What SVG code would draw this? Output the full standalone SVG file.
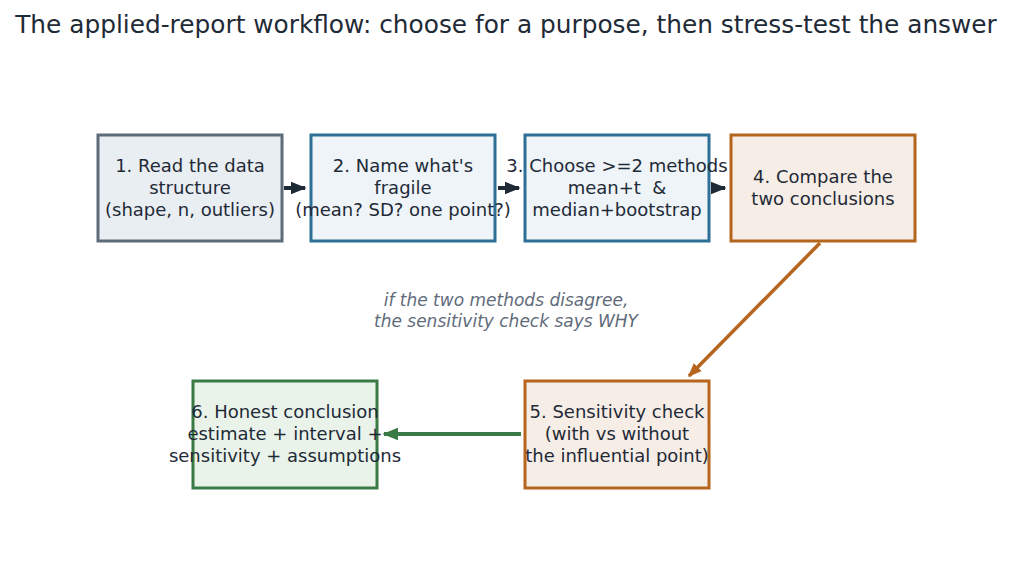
<svg xmlns="http://www.w3.org/2000/svg" width="1012" height="569" viewBox="0 0 1012 569">
<defs>
<style>
.box{stroke-width:3}
.t{font-family:"DejaVu Sans",sans-serif;font-size:18px;fill:#1f2a37;text-anchor:middle}
.title{font-family:"DejaVu Sans",sans-serif;font-size:24.8px;fill:#1f2a37;text-anchor:middle}
.note{font-family:"DejaVu Sans",sans-serif;font-size:17px;font-style:italic;fill:#5f6b7a;text-anchor:middle}
</style>
<marker id="ad" viewBox="0 0 10 10" refX="9" refY="5" markerWidth="4" markerHeight="4" orient="auto" markerUnits="strokeWidth"><path d="M0,1 L10,5 L0,9 z" fill="#1f2a37"/></marker>
<marker id="ao" viewBox="0 0 10 10" refX="9" refY="5" markerWidth="4" markerHeight="4" orient="auto" markerUnits="strokeWidth"><path d="M0,1 L10,5 L0,9 z" fill="#b5651d"/></marker>
<marker id="ag" viewBox="0 0 10 10" refX="9" refY="5" markerWidth="4" markerHeight="4" orient="auto" markerUnits="strokeWidth"><path d="M0,1 L10,5 L0,9 z" fill="#3a7a45"/></marker>
</defs>
<rect width="1012" height="569" fill="#ffffff"/>
<text class="title" x="506" y="33">The applied-report workflow: choose for a purpose, then stress-test the answer</text>
<g id="connectors" fill="none" stroke-width="4">
<line x1="284" y1="188" x2="305" y2="188" stroke="#1f2a37" marker-end="url(#ad)"/>
<line x1="498" y1="188" x2="519" y2="188" stroke="#1f2a37" marker-end="url(#ad)"/>
<line x1="711" y1="188" x2="725" y2="188" stroke="#1f2a37" marker-end="url(#ad)"/>
<line x1="820" y1="243" x2="689" y2="376" stroke="#b5651d" stroke-width="3.5" marker-end="url(#ao)"/>
<line x1="521" y1="434" x2="384" y2="434" stroke="#3a7a45" marker-end="url(#ag)"/>
</g>
<g id="n1"><rect class="box" x="98" y="135" width="184" height="106" fill="#e9eef2" stroke="#5f6b7a"/>
<text class="t" x="190" y="172">1. Read the data</text><text class="t" x="190" y="194">structure</text><text class="t" x="190" y="216">(shape, n, outliers)</text></g>
<g id="n2"><rect class="box" x="311" y="135" width="184" height="106" fill="#eef4f8" stroke="#2e6f96"/>
<text class="t" x="403" y="172">2. Name what's</text><text class="t" x="403" y="194">fragile</text><text class="t" x="403" y="216">(mean? SD? one point?)</text></g>
<g id="n3"><rect class="box" x="525" y="135" width="184" height="106" fill="#eef4f8" stroke="#2e6f96"/>
<text class="t" x="617" y="172">3. Choose &gt;=2 methods</text><text class="t" x="617" y="194" xml:space="preserve">mean+t  &amp;</text><text class="t" x="617" y="216">median+bootstrap</text></g>
<g id="n4"><rect class="box" x="731" y="135" width="184" height="106" fill="#f6ede6" stroke="#b5651d"/>
<text class="t" x="823" y="183">4. Compare the</text><text class="t" x="823" y="205">two conclusions</text></g>
<g id="n5"><rect class="box" x="525" y="381" width="184" height="107" fill="#f6ede6" stroke="#b5651d"/>
<text class="t" x="617" y="418">5. Sensitivity check</text><text class="t" x="617" y="440">(with vs without</text><text class="t" x="617" y="462">the influential point)</text></g>
<g id="n6"><rect class="box" x="193" y="381" width="184" height="107" fill="#e9f3ea" stroke="#3a7a45"/>
<text class="t" x="285" y="418">6. Honest conclusion</text><text class="t" x="285" y="440">estimate + interval +</text><text class="t" x="285" y="462">sensitivity + assumptions</text></g>
<g id="note"><text class="note" x="506" y="306">if the two methods disagree,</text><text class="note" x="506" y="327">the sensitivity check says WHY</text></g>
</svg>
